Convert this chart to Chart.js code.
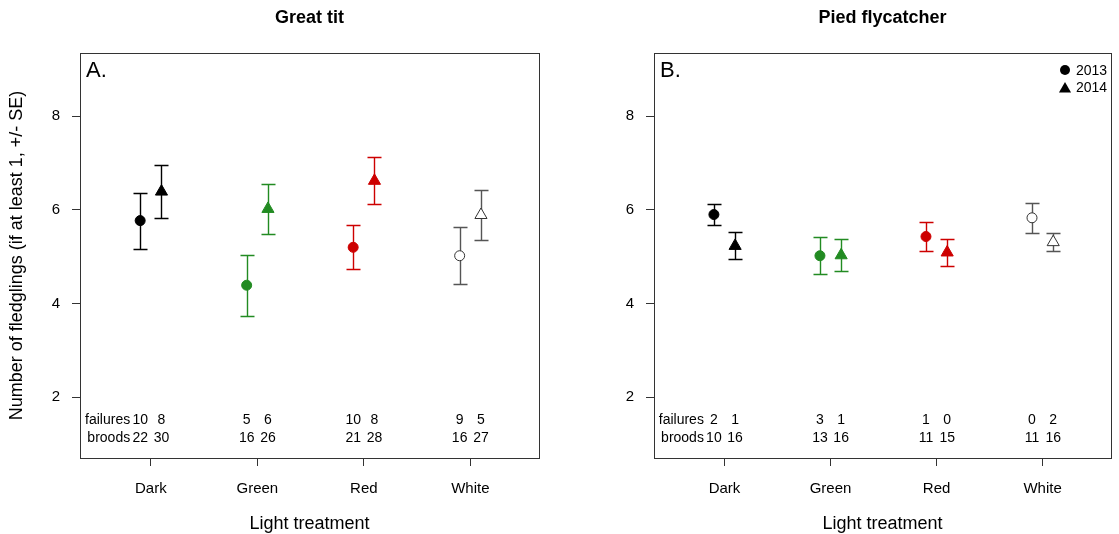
<!DOCTYPE html>
<html>
<head>
<meta charset="utf-8">
<script src="https://cdn.jsdelivr.net/npm/chart.js@4/dist/chart.umd.min.js"></script>
<style>
  html, body { margin: 0; padding: 0; background: #fff; }
  #wrap { position: relative; width: 1119px; height: 534px; }
  canvas { position: absolute; top: 0; }
  #gt { left: 0; }
  #pf { left: 560px; }
</style>
</head>
<body>
<div id="wrap">
  <canvas id="gt" width="560" height="534"></canvas>
  <canvas id="pf" width="559" height="534"></canvas>
</div>
<script>
(function () {
  'use strict';

  const treatments = ['Dark', 'Green', 'Red', 'White'];
  const yTicks = [2, 4, 6, 8];

  // Great tit: mean fledglings and SE per treatment
  const gtMean2013 = [5.77, 4.39, 5.20, 5.02];
  const gtSe2013 = [0.60, 0.65, 0.47, 0.61];
  const gtMean2014 = [6.39, 6.02, 6.62, 5.89];
  const gtSe2014 = [0.57, 0.53, 0.50, 0.54];
  const gtFail2013 = [10, 5, 10, 9];
  const gtFail2014 = [8, 6, 8, 5];
  const gtBroods2013 = [22, 16, 21, 16];
  const gtBroods2014 = [30, 26, 28, 27];

  // Pied flycatcher
  const pfMean2013 = [5.90, 5.02, 5.43, 5.83];
  const pfSe2013 = [0.22, 0.39, 0.30, 0.32];
  const pfMean2014 = [5.23, 5.03, 5.09, 5.31];
  const pfSe2014 = [0.29, 0.34, 0.29, 0.19];
  const pfFail2013 = [2, 3, 1, 0];
  const pfFail2014 = [1, 1, 0, 2];
  const pfBroods2013 = [10, 13, 11, 11];
  const pfBroods2014 = [16, 16, 15, 16];

  const markFill = ['#000000', '#228b22', '#cd0000', '#ffffff'];
  const markLine = ['#000000', '#228b22', '#cd0000', '#333333'];
  const barColour = ['#000000', '#228b22', '#cd0000', '#555555'];

  const FONT = '"Liberation Sans", Arial, sans-serif';
  const DODGE = 0.1;       // 2013 left of the tick, 2014 right
  const CAP = 7;           // half width of error bar caps, px
  const FAIL_ROW = 1.5;    // y values of the count rows
  const BROOD_ROW = 1.12;

  Chart.defaults.font.family = FONT;
  Chart.defaults.color = '#000';

  function points(means, ses, shift) {
    return means.map((m, i) => ({ x: i + 1 + shift, y: m, se: ses[i] }));
  }

  const crisp = (v) => Math.round(v) + 0.5;

  function drawCircle(ctx, x, y, r) {
    ctx.beginPath();
    ctx.arc(x, y, r, 0, Math.PI * 2);
    ctx.fill();
  }

  function drawTriangle(ctx, x, y, r) {
    ctx.beginPath();
    ctx.moveTo(x, y - r);
    ctx.lineTo(x + r * 0.866, y + r * 0.5);
    ctx.lineTo(x - r * 0.866, y + r * 0.5);
    ctx.closePath();
    ctx.fill();
  }

  // Error bars under the points, then box, panel letter, counts and legend on top.
  const panelExtras = {
    id: 'panelExtras',
    beforeDatasetsDraw(chart) {
      const { ctx } = chart;
      const xs = chart.scales.x;
      const ys = chart.scales.y;
      ctx.save();
      ctx.lineWidth = 1.4;
      chart.data.datasets.forEach((ds) => {
        ds.data.forEach((p, i) => {
          const x = crisp(xs.getPixelForValue(p.x));
          const top = crisp(ys.getPixelForValue(p.y + p.se));
          const bot = crisp(ys.getPixelForValue(p.y - p.se));
          ctx.strokeStyle = barColour[i];
          ctx.beginPath();
          ctx.moveTo(x, top); ctx.lineTo(x, bot);
          ctx.moveTo(x - CAP, top); ctx.lineTo(x + CAP, top);
          ctx.moveTo(x - CAP, bot); ctx.lineTo(x + CAP, bot);
          ctx.stroke();
        });
      });
      ctx.restore();
    },
    afterDraw(chart, args, opts) {
      const { ctx, chartArea: a } = chart;
      const xs = chart.scales.x;
      const ys = chart.scales.y;
      ctx.save();

      ctx.strokeStyle = '#333';
      ctx.lineWidth = 1;
      ctx.strokeRect(crisp(a.left), crisp(a.top), Math.round(a.right - a.left), Math.round(a.bottom - a.top));

      ctx.fillStyle = '#000';
      ctx.textBaseline = 'middle';
      ctx.textAlign = 'left';
      ctx.font = '22px ' + FONT;
      ctx.fillText(opts.letter, a.left + 6, a.top + 18);

      // failures / broods rows
      ctx.font = '14px ' + FONT;
      const failY = ys.getPixelForValue(FAIL_ROW);
      const broodY = ys.getPixelForValue(BROOD_ROW);
      const firstX = xs.getPixelForValue(1 - DODGE);
      ctx.textAlign = 'right';
      ctx.fillText('failures', firstX - 10, failY);
      ctx.fillText('broods', firstX - 10, broodY);
      ctx.textAlign = 'center';
      treatments.forEach((t, i) => {
        const x13 = xs.getPixelForValue(i + 1 - DODGE);
        const x14 = xs.getPixelForValue(i + 1 + DODGE);
        ctx.fillText(String(opts.fail[0][i]), x13, failY);
        ctx.fillText(String(opts.fail[1][i]), x14, failY);
        ctx.fillText(String(opts.broods[0][i]), x13, broodY);
        ctx.fillText(String(opts.broods[1][i]), x14, broodY);
      });

      if (opts.legend) {
        const lx = a.right - 46;
        ctx.textAlign = 'left';
        drawCircle(ctx, lx, a.top + 17, 5);
        ctx.fillText('2013', lx + 11, a.top + 18);
        drawTriangle(ctx, lx, a.top + 36, 7);
        ctx.fillText('2014', lx + 11, a.top + 35);
      }
      ctx.restore();
    },
  };

  function makePanel(canvasId, cfg) {
    const datasets = [
      {
        label: '2013',
        data: points(cfg.mean13, cfg.se13, -DODGE),
        pointStyle: 'circle',
        pointRadius: 5,
        pointBackgroundColor: markFill,
        pointBorderColor: markLine,
        pointBorderWidth: 1,
        showLine: false,
      },
      {
        label: '2014',
        data: points(cfg.mean14, cfg.se14, DODGE),
        pointStyle: 'triangle',
        pointRadius: 7,
        pointBackgroundColor: markFill,
        pointBorderColor: markLine,
        pointBorderWidth: 1,
        showLine: false,
      },
    ];

    return new Chart(document.getElementById(canvasId), {
      type: 'scatter',
      data: { datasets },
      plugins: [panelExtras],
      options: {
        responsive: false,
        devicePixelRatio: 1,
        animation: false,
        events: [],
        layout: { padding: { top: 0, right: cfg.padRight, bottom: 0, left: 0 } },
        plugins: {
          legend: { display: false },
          tooltip: { enabled: false },
          title: {
            display: true,
            text: cfg.title,
            fullSize: false,
            color: '#000',
            font: { size: 18, weight: 'bold' },
            padding: { top: 7, bottom: 24.4 },
          },
          panelExtras: {
            letter: cfg.letter,
            legend: cfg.legend,
            fail: cfg.fail,
            broods: cfg.broods,
          },
        },
        scales: {
          x: {
            type: 'linear',
            min: 0.335,
            max: 4.645,
            afterFit: (s) => { s.height = 76; },
            afterBuildTicks: (s) => { s.ticks = treatments.map((t, i) => ({ value: i + 1 })); },
            ticks: {
              font: { size: 15 },
              color: '#000',
              padding: 14,
              maxRotation: 0,
              callback: (v) => treatments[v - 1],
            },
            grid: { drawOnChartArea: false, drawTicks: true, tickLength: 8, color: '#333' },
            border: { display: false },
            title: {
              display: true,
              text: 'Light treatment',
              color: '#000',
              font: { size: 18, lineHeight: 1.1 },
              padding: { top: 0, bottom: 0 },
            },
          },
          y: {
            type: 'linear',
            min: 0.70,
            max: 9.35,
            afterFit: (s) => { s.width = cfg.axisWidth; },
            afterBuildTicks: (s) => { s.ticks = yTicks.map((v) => ({ value: v })); },
            ticks: { font: { size: 15 }, color: '#000', padding: 12 },
            grid: { drawOnChartArea: false, drawTicks: true, tickLength: 8, color: '#333' },
            border: { display: false },
            title: {
              display: cfg.showYTitle,
              text: 'Number of fledglings (if at least 1, +/- SE)',
              color: '#000',
              font: { size: 18 },
              padding: { top: 6, bottom: 0 },
            },
          },
        },
      },
    });
  }

  makePanel('gt', {
    title: 'Great tit',
    letter: 'A.',
    legend: false,
    showYTitle: true,
    axisWidth: 80,
    padRight: 21,
    mean13: gtMean2013, se13: gtSe2013,
    mean14: gtMean2014, se14: gtSe2014,
    fail: [gtFail2013, gtFail2014],
    broods: [gtBroods2013, gtBroods2014],
  });

  makePanel('pf', {
    title: 'Pied flycatcher',
    letter: 'B.',
    legend: true,
    showYTitle: false,
    axisWidth: 94,
    padRight: 5,
    mean13: pfMean2013, se13: pfSe2013,
    mean14: pfMean2014, se14: pfSe2014,
    fail: [pfFail2013, pfFail2014],
    broods: [pfBroods2013, pfBroods2014],
  });
})();
</script>
</body>
</html>
